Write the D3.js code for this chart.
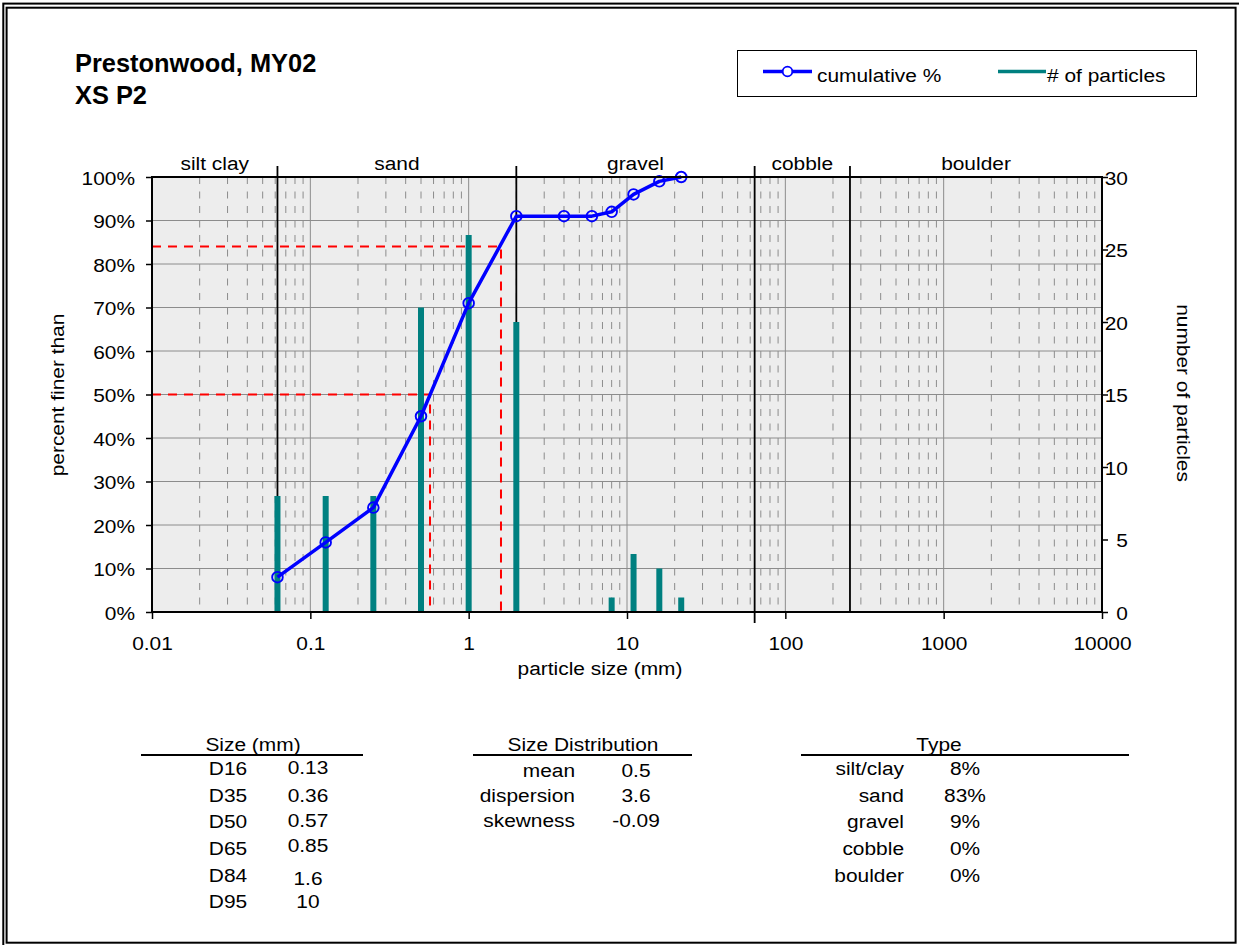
<!DOCTYPE html>
<html>
<head>
<meta charset="utf-8">
<script src="https://cdn.jsdelivr.net/npm/d3@7"></script>
<style>
  html, body { margin: 0; padding: 0; background: #fff; }
  svg { display: block; font-family: "Liberation Sans", Arial, sans-serif; }
</style>
</head>
<body>
<svg id="chart" width="1239" height="945"></svg>
<script>
// ---------------- data ----------------
const titleLines = ["Prestonwood, MY02", "XS P2"];
const sizes = [0.062, 0.125, 0.25, 0.5, 1, 2, 4, 6, 8, 11, 16, 22];
const counts = [8, 8, 8, 21, 26, 20, 0, 0, 1, 4, 3, 1];
const cumulative = [8, 16, 24, 45, 71, 91, 91, 91, 92, 96, 99, 100];
const classBounds = [0.062, 2, 64, 256];
const classNames = ["silt clay", "sand", "gravel", "cobble", "boulder"];
const dPercent = [50, 84];
const dSize = [0.57, 1.6];
const xTickValues = [0.01, 0.1, 1, 10, 100, 1000, 10000];
const yTickValues = [0, 10, 20, 30, 40, 50, 60, 70, 80, 90, 100];
const y2TickValues = [0, 5, 10, 15, 20, 25, 30];
const sizeLabels = ["D16", "D35", "D50", "D65", "D84", "D95"];
const sizeValues = ["0.13", "0.36", "0.57", "0.85", "1.6", "10"];
const distLabels = ["mean", "dispersion", "skewness"];
const distValues = ["0.5", "3.6", "-0.09"];
const typeLabels = ["silt/clay", "sand", "gravel", "cobble", "boulder"];
const typeValues = ["8%", "83%", "9%", "0%", "0%"];
const legendNames = ["cumulative %", "# of particles"];

// ---------------- layout ----------------
const svg = d3.select("#chart");
const L = 152, R = 1102, T = 177, B = 612;
const x = d3.scaleLog().domain([0.01, 10000]).range([L, R]);
const y = d3.scaleLinear().domain([0, 100]).range([B, T]);
const yR = d3.scaleLinear().domain([0, 30]).range([B, T]);
const FS = 19, SX = 1.1;
const BLUE = "#0000ff", TEAL = "#008080", RED = "#ff0000";

function txt(g, px, py, s, anchor, size) {
  return g.append("text")
    .attr("transform", `translate(${px},${py}) scale(${SX},1)`)
    .attr("text-anchor", anchor || "start")
    .attr("font-size", size || FS)
    .attr("fill", "#000")
    .text(s);
}

// frame
svg.append("rect").attr("x", 3.3).attr("y", 3.6).attr("width", 1245).attr("height", 950)
  .attr("fill", "none").attr("stroke", "#000").attr("stroke-width", 2);
svg.append("rect").attr("x", 6.6).attr("y", 7.7).attr("width", 1229).attr("height", 935)
  .attr("fill", "none").attr("stroke", "#000").attr("stroke-width", 2);

// title
titleLines.forEach((s, i) => {
  svg.append("text").attr("x", 75).attr("y", 72 + i * 31.5)
    .attr("font-size", 25.4).attr("font-weight", "bold").text(s);
});

// legend
const lg = svg.append("g");
lg.append("rect").attr("x", 737.5).attr("y", 50.5).attr("width", 459).attr("height", 46)
  .attr("fill", "#fff").attr("stroke", "#000").attr("stroke-width", 1);
lg.append("line").attr("x1", 763).attr("x2", 812).attr("y1", 71.5).attr("y2", 71.5)
  .attr("stroke", BLUE).attr("stroke-width", 3.5);
lg.append("circle").attr("cx", 787.5).attr("cy", 71.5).attr("r", 4.8)
  .attr("fill", "#fff").attr("stroke", BLUE).attr("stroke-width", 1.8);
txt(lg, 817, 81.5, legendNames[0], "start", FS);
lg.append("line").attr("x1", 998).attr("x2", 1046).attr("y1", 71.5).attr("y2", 71.5)
  .attr("stroke", TEAL).attr("stroke-width", 3.5);
txt(lg, 1047, 81.5, legendNames[1], "start", FS);

// plot background
svg.append("rect").attr("x", L).attr("y", T).attr("width", R - L).attr("height", B - T)
  .attr("fill", "#ededed");

// horizontal gridlines
svg.append("g").selectAll("line").data(yTickValues.filter(v => v > 0 && v < 100)).join("line")
  .attr("x1", L).attr("x2", R).attr("y1", d => y(d)).attr("y2", d => y(d))
  .attr("stroke", "#8c8c8c").attr("stroke-width", 1);

// vertical gridlines: decades solid, minors dashed
const allTicks = x.ticks();
const isDecade = v => Math.abs(Math.log10(v) - Math.round(Math.log10(v))) < 1e-9;
svg.append("g").selectAll("line").data(allTicks.filter(v => !isDecade(v))).join("line")
  .attr("x1", d => x(d)).attr("x2", d => x(d)).attr("y1", T).attr("y2", B)
  .attr("stroke", "#8c8c8c").attr("stroke-width", 1).attr("stroke-dasharray", "7,7.5");
svg.append("g").selectAll("line").data(xTickValues.slice(1, -1)).join("line")
  .attr("x1", d => x(d)).attr("x2", d => x(d)).attr("y1", T).attr("y2", B)
  .attr("stroke", "#8c8c8c").attr("stroke-width", 1);

// class boundaries
svg.append("g").selectAll("line").data(classBounds).join("line")
  .attr("x1", d => x(d)).attr("x2", d => x(d)).attr("y1", 166)
  .attr("y2", d => d === 64 ? 623 : B)
  .attr("stroke", "#000").attr("stroke-width", 1.8);

// class names
const edges = [0.01].concat(classBounds, [10000]);
classNames.forEach((n, i) => {
  const cx = (x(edges[i]) + x(edges[i + 1])) / 2;
  txt(svg, cx, 170, n, "middle", FS);
});

// red dashed D50 / D84 lines
const rg = svg.append("g").attr("fill", "none").attr("stroke", RED)
  .attr("stroke-width", 2).attr("stroke-dasharray", "9,7");
dPercent.forEach((p, i) => {
  rg.append("path").attr("d", d3.line()([[L, y(p)], [x(dSize[i]), y(p)], [x(dSize[i]), y(0)]]));
});

// bars (# of particles)
const bw = 6;
svg.append("g").selectAll("rect").data(sizes.map((s, i) => ({ s, c: counts[i] })).filter(d => d.c > 0))
  .join("rect")
  .attr("x", d => x(d.s) - bw / 2).attr("width", bw)
  .attr("y", d => yR(d.c)).attr("height", d => yR(0) - yR(d.c))
  .attr("fill", TEAL);

// cumulative line
const pts = sizes.map((s, i) => [x(s), y(cumulative[i])]);
svg.append("path").attr("d", d3.line()(pts)).attr("fill", "none")
  .attr("stroke", BLUE).attr("stroke-width", 3.5).attr("stroke-linejoin", "round");
svg.append("g").selectAll("circle").data(pts).join("circle")
  .attr("cx", d => d[0]).attr("cy", d => d[1]).attr("r", 5.3)
  .attr("fill", "none").attr("stroke", BLUE).attr("stroke-width", 1.9);

// plot border
svg.append("rect").attr("x", L).attr("y", T).attr("width", R - L).attr("height", B - T)
  .attr("fill", "none").attr("stroke", "#000").attr("stroke-width", 2);

// axes
const ax = svg.append("g").attr("transform", `translate(${L},0)`)
  .call(d3.axisLeft(y).tickValues(yTickValues).tickFormat(d => d + "%").tickSize(6).tickPadding(0));
ax.select(".domain").remove();
ax.selectAll(".tick line").attr("stroke", "#000").attr("stroke-width", 1.5);
ax.selectAll(".tick text").attr("font-size", FS).attr("font-family", null).attr("fill", "#000")
  .attr("x", -17 / SX).attr("dy", null).attr("y", 7).attr("transform", `scale(${SX},1)`);

const ay = svg.append("g").attr("transform", `translate(${R},0)`)
  .call(d3.axisRight(yR).tickValues(y2TickValues).tickSize(6).tickPadding(0));
ay.select(".domain").remove();
ay.selectAll(".tick line").attr("stroke", "#000").attr("stroke-width", 1.5);
ay.selectAll(".tick text").attr("font-size", FS).attr("font-family", null).attr("fill", "#000")
  .attr("text-anchor", "end").attr("x", 26 / SX).attr("dy", null).attr("y", 7)
  .attr("transform", `scale(${SX},1)`);

const axb = svg.append("g").attr("transform", `translate(0,${B})`)
  .call(d3.axisBottom(x).tickValues(xTickValues).tickFormat(d => String(d)).tickSize(7).tickPadding(0));
axb.select(".domain").remove();
axb.selectAll(".tick line").attr("stroke", "#000").attr("stroke-width", 1.5);
axb.selectAll(".tick text").attr("font-size", FS).attr("font-family", null).attr("fill", "#000")
  .attr("dy", null).attr("y", 38).attr("transform", `scale(${SX},1)`);

// axis titles
txt(svg, 600, 675, "particle size (mm)", "middle", FS);
svg.append("text").attr("transform", `translate(64,395) rotate(-90) scale(${SX},1)`)
  .attr("text-anchor", "middle").attr("font-size", FS).text("percent finer than");
svg.append("text").attr("transform", `translate(1177,393) rotate(90) scale(${SX},1)`)
  .attr("text-anchor", "middle").attr("font-size", FS).text("number of particles");

// tables
const tg = svg.append("g");
function header(cx, x1, x2, s) {
  txt(tg, cx, 750.5, s, "middle", FS);
  tg.append("line").attr("x1", x1).attr("x2", x2).attr("y1", 755).attr("y2", 755)
    .attr("stroke", "#000").attr("stroke-width", 2);
}
const rowY = [775, 801.5, 828, 854.5, 882, 908.3];
const sizeValY = [773.5, 801.5, 827, 851.5, 884.5, 908.3];
const distY = [776.7, 801.7, 826.7];
header(253, 141, 363, "Size (mm)");
sizeLabels.forEach((s, i) => txt(tg, 228, rowY[i], s, "middle", FS));
sizeValues.forEach((s, i) => txt(tg, 308, sizeValY[i], s, "middle", FS));

header(583, 473, 692, "Size Distribution");
distLabels.forEach((s, i) => txt(tg, 575, distY[i], s, "end", FS));
distValues.forEach((s, i) => txt(tg, 636, distY[i], s, "middle", FS));

header(939, 801, 1129, "Type");
typeLabels.forEach((s, i) => txt(tg, 904, rowY[i], s, "end", FS));
typeValues.forEach((s, i) => txt(tg, 965, rowY[i], s, "middle", FS));
</script>
</body>
</html>
